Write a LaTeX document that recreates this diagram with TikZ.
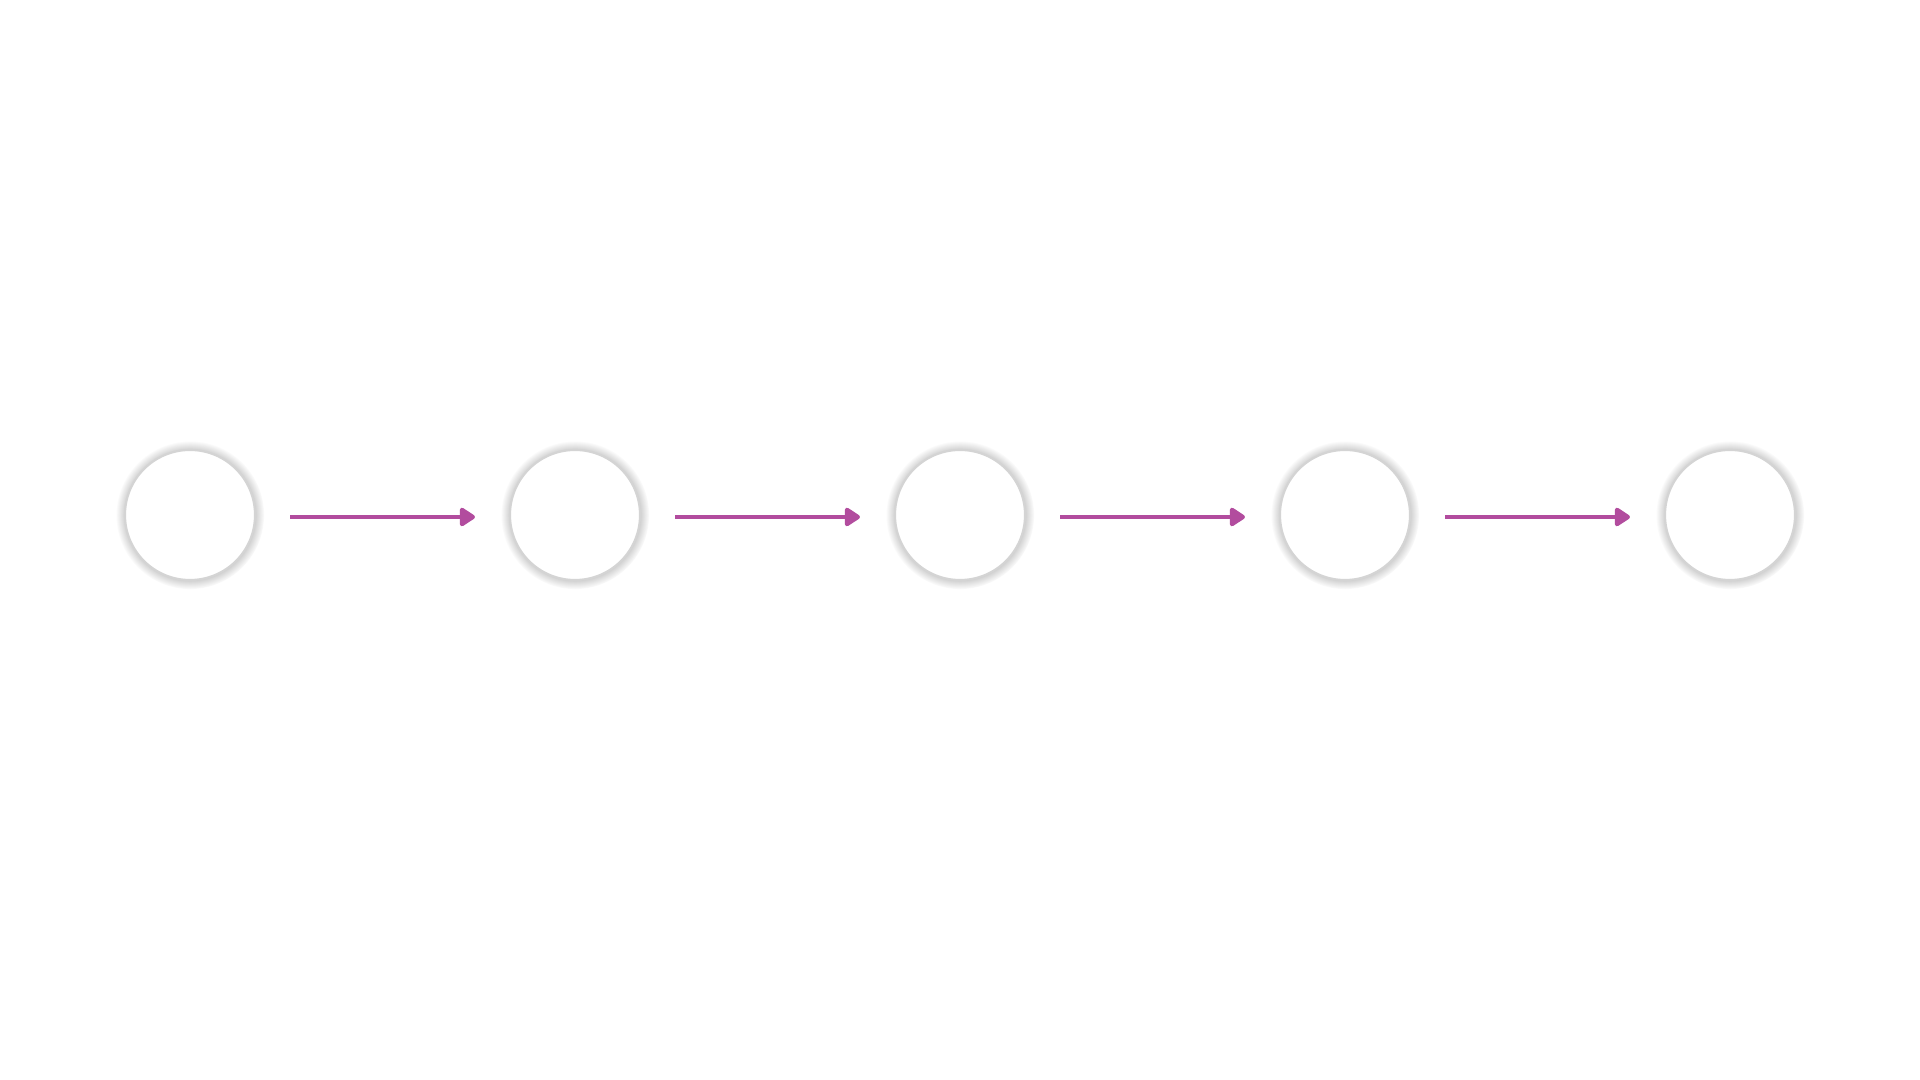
\documentclass[tikz,border=0pt]{standalone}
\usetikzlibrary{arrows.meta,shadows,fadings}
\definecolor{orchid}{RGB}{178, 76, 158}
\definecolor{silver}{RGB}{212, 212, 212}

\tikzset{
  stage/.style={circle, minimum size=1.30cm, inner sep=0pt, draw=silver, line width=0.6pt, fill=white,
                circular glow={shadow scale=1.14, fill=black!22}},
  flow/.style={draw=orchid, line width=1.35pt, shorten <=0.34cm, shorten >=0.34cm,
               -{Triangle[length=0.17cm, width=0.21cm, round]}}
}

\begin{document}
\begin{tikzpicture}
            \useasboundingbox[fill=white]                                 ( 0.00, 0.00) rectangle (19.20,10.80);
            \node[stage] (s1) at ( 1.90, 5.65) {};
            \node[stage] (s2) at ( 5.75, 5.65) {};
            \node[stage] (s3) at ( 9.60, 5.65) {};
            \node[stage] (s4) at (13.45, 5.65) {};
            \node[stage] (s5) at (17.30, 5.65) {};
            \draw[flow, transform canvas={yshift=-0.02cm}] (s1) -- (s2);
            \draw[flow, transform canvas={yshift=-0.02cm}] (s2) -- (s3);
            \draw[flow, transform canvas={yshift=-0.02cm}] (s3) -- (s4);
            \draw[flow, transform canvas={yshift=-0.02cm}] (s4) -- (s5);
            \end{tikzpicture}
\end{document}
